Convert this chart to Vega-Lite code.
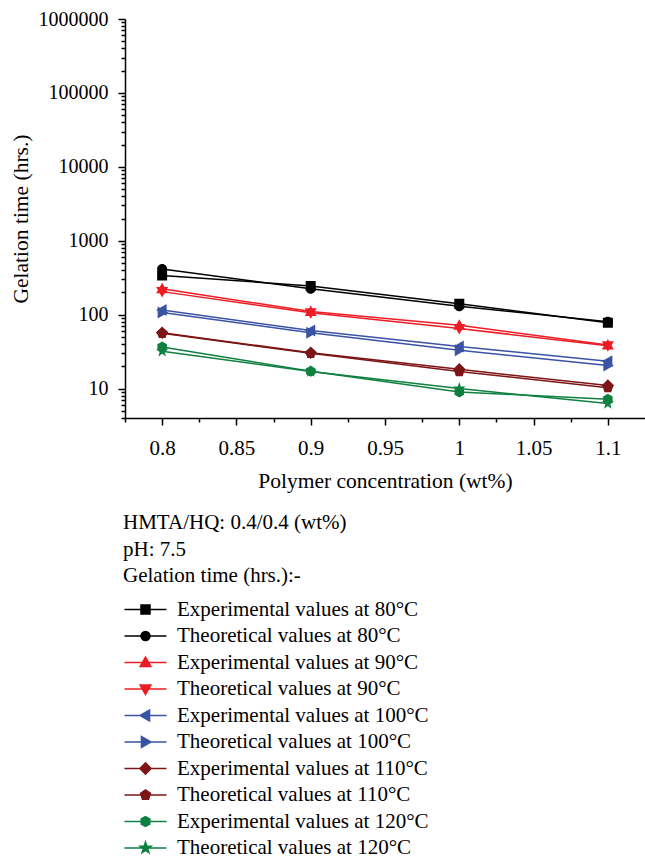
{
  "$schema": "https://vega.github.io/schema/vega-lite/v6.json",
  "width": 520,
  "height": 399,
  "autosize": {"type": "none"},
  "padding": {"left": 125, "top": 19, "right": 0, "bottom": 441},
  "config": {
    "font": "Liberation Serif",
    "view": {"stroke": null},
    "axis": {
      "grid": false,
      "domainColor": "#000000",
      "tickColor": "#000000",
      "labelColor": "#000000",
      "titleColor": "#000000",
      "labelFontSize": 20,
      "titleFontSize": 21.5,
      "titleFontWeight": "normal",
      "domainWidth": 1.5,
      "tickWidth": 1.5
    }
  },
  "data": {
    "values": [
      {"series": "Experimental values at 80°C", "conc": 0.8, "time": 340},
      {"series": "Experimental values at 80°C", "conc": 0.9, "time": 245},
      {"series": "Experimental values at 80°C", "conc": 1.0, "time": 140},
      {"series": "Experimental values at 80°C", "conc": 1.1, "time": 78},
      {"series": "Theoretical values at 80°C", "conc": 0.8, "time": 415},
      {"series": "Theoretical values at 80°C", "conc": 0.9, "time": 225},
      {"series": "Theoretical values at 80°C", "conc": 1.0, "time": 130},
      {"series": "Theoretical values at 80°C", "conc": 1.1, "time": 80},
      {"series": "Experimental values at 90°C", "conc": 0.8, "time": 225},
      {"series": "Experimental values at 90°C", "conc": 0.9, "time": 110},
      {"series": "Experimental values at 90°C", "conc": 1.0, "time": 72},
      {"series": "Experimental values at 90°C", "conc": 1.1, "time": 39},
      {"series": "Theoretical values at 90°C", "conc": 0.8, "time": 205},
      {"series": "Theoretical values at 90°C", "conc": 0.9, "time": 106},
      {"series": "Theoretical values at 90°C", "conc": 1.0, "time": 65},
      {"series": "Theoretical values at 90°C", "conc": 1.1, "time": 38},
      {"series": "Experimental values at 100°C", "conc": 0.8, "time": 116},
      {"series": "Experimental values at 100°C", "conc": 0.9, "time": 61},
      {"series": "Experimental values at 100°C", "conc": 1.0, "time": 37},
      {"series": "Experimental values at 100°C", "conc": 1.1, "time": 23.5},
      {"series": "Theoretical values at 100°C", "conc": 0.8, "time": 107},
      {"series": "Theoretical values at 100°C", "conc": 0.9, "time": 57},
      {"series": "Theoretical values at 100°C", "conc": 1.0, "time": 33},
      {"series": "Theoretical values at 100°C", "conc": 1.1, "time": 20.5},
      {"series": "Experimental values at 110°C", "conc": 0.8, "time": 57},
      {"series": "Experimental values at 110°C", "conc": 0.9, "time": 30.5},
      {"series": "Experimental values at 110°C", "conc": 1.0, "time": 18.2},
      {"series": "Experimental values at 110°C", "conc": 1.1, "time": 11},
      {"series": "Theoretical values at 110°C", "conc": 0.8, "time": 56},
      {"series": "Theoretical values at 110°C", "conc": 0.9, "time": 30},
      {"series": "Theoretical values at 110°C", "conc": 1.0, "time": 17},
      {"series": "Theoretical values at 110°C", "conc": 1.1, "time": 10.3},
      {"series": "Experimental values at 120°C", "conc": 0.8, "time": 36.5},
      {"series": "Experimental values at 120°C", "conc": 0.9, "time": 17.2},
      {"series": "Experimental values at 120°C", "conc": 1.0, "time": 9},
      {"series": "Experimental values at 120°C", "conc": 1.1, "time": 7.2},
      {"series": "Theoretical values at 120°C", "conc": 0.8, "time": 32},
      {"series": "Theoretical values at 120°C", "conc": 0.9, "time": 17},
      {"series": "Theoretical values at 120°C", "conc": 1.0, "time": 10},
      {"series": "Theoretical values at 120°C", "conc": 1.1, "time": 6.3}
    ]
  },
  "resolve": {"axis": {"x": "independent", "y": "independent"}},
  "layer": [
    {
      "mark": {"type": "line", "strokeWidth": 1.5},
      "encoding": {
        "x": {
          "field": "conc", "type": "quantitative",
          "scale": {"domain": [0.775, 1.125], "nice": false, "zero": false},
          "axis": {"orient": "bottom", "values": [0.8, 0.85, 0.9, 0.95, 1, 1.05, 1.1], "format": "~g", "tickSize": 7, "labelPadding": 12, "labelFontSize": 21, "title": "Polymer concentration (wt%)", "titlePadding": 12}
        },
        "y": {
          "field": "time", "type": "quantitative",
          "scale": {"type": "log", "domain": [4, 1000000], "nice": false},
          "axis": {"orient": "left", "values": [10, 100, 1000, 10000, 100000, 1000000], "format": "d", "tickSize": 7, "labelPadding": 10, "title": "Gelation time (hrs.)", "titlePadding": 6}
        },
        "color": {
          "field": "series", "type": "nominal",
          "scale": {
            "domain": ["Experimental values at 80°C", "Theoretical values at 80°C", "Experimental values at 90°C", "Theoretical values at 90°C", "Experimental values at 100°C", "Theoretical values at 100°C", "Experimental values at 110°C", "Theoretical values at 110°C", "Experimental values at 120°C", "Theoretical values at 120°C"],
            "range": ["#000000", "#000000", "#ED1C24", "#ED1C24", "#3A53A4", "#3A53A4", "#7D1416", "#7D1416", "#0E8040", "#0E8040"]
          }
        },
        "detail": {"field": "series"}
      }
    },
    {
      "mark": {"type": "point", "filled": true, "opacity": 1, "size": 100},
      "encoding": {
        "x": {
          "field": "conc", "type": "quantitative",
          "axis": {"orient": "bottom", "values": [0.775, 0.825, 0.875, 0.925, 0.975, 1.025, 1.075], "labels": false, "domain": false, "title": null, "tickSize": 4}
        },
        "y": {
          "field": "time", "type": "quantitative",
          "axis": {"orient": "left", "values": [4, 5, 6, 7, 8, 9, 20, 30, 40, 50, 60, 70, 80, 90, 200, 300, 400, 500, 600, 700, 800, 900, 2000, 3000, 4000, 5000, 6000, 7000, 8000, 9000, 20000, 30000, 40000, 50000, 60000, 70000, 80000, 90000, 200000, 300000, 400000, 500000, 600000, 700000, 800000, 900000], "labels": false, "domain": false, "title": null, "tickSize": 4}
        },
        "color": {
          "field": "series", "type": "nominal",
          "legend": {
            "orient": "none", "legendX": -2, "legendY": 493,
            "title": ["HMTA/HQ: 0.4/0.4 (wt%)", "pH: 7.5", "Gelation time (hrs.):-"],
            "titleFontSize": 21, "titleFontWeight": "normal", "titleLineHeight": 26.5, "titlePadding": 13, "titleColor": "#000000", "titleLimit": 600,
            "labelFontSize": 21, "labelColor": "#000000", "labelLimit": 500, "labelOffset": 21,
            "symbolOffset": 12, "symbolSize": 81, "symbolStrokeWidth": 1.5, "symbolOpacity": 1,
            "rowPadding": 4.5, "padding": 0, "direction": "vertical"
          }
        },
        "shape": {
          "field": "series", "type": "nominal",
          "scale": {
            "domain": ["Experimental values at 80°C", "Theoretical values at 80°C", "Experimental values at 90°C", "Theoretical values at 90°C", "Experimental values at 100°C", "Theoretical values at 100°C", "Experimental values at 110°C", "Theoretical values at 110°C", "Experimental values at 120°C", "Theoretical values at 120°C"],
            "range": [
              "M-1,-1H1V1H-1ZM-4.67,0H4.67",
              "M1,0A1,1,0,1,1,-1,0A1,1,0,1,1,1,0ZM-4.67,0H4.67",
              "M0,-1.2L1.2,0.9H-1.2ZM-4.67,0H4.67",
              "M0,1.2L1.2,-0.9H-1.2ZM-4.67,0H4.67",
              "M-1.2,0L0.9,-1.2V1.2ZM-4.67,0H4.67",
              "M1.2,0L-0.9,-1.2V1.2ZM-4.67,0H4.67",
              "M0,-1.25L1.25,0L0,1.25L-1.25,0ZM-4.67,0H4.67",
              "M0,-1.15L1.094,-0.355L0.676,0.93L-0.676,0.93L-1.094,-0.355ZM-4.67,0H4.67",
              "M0,-1.1L0.953,-0.55L0.953,0.55L0,1.1L-0.953,0.55L-0.953,-0.55ZM-4.67,0H4.67",
              "M0,-1.3L0.306,-0.421L1.236,-0.402L0.495,0.161L0.764,1.052L0,0.52L-0.764,1.052L-0.495,0.161L-1.236,-0.402L-0.306,-0.421ZM-4.67,0H4.67"
            ]
          }
        }
      }
    }
  ]
}
